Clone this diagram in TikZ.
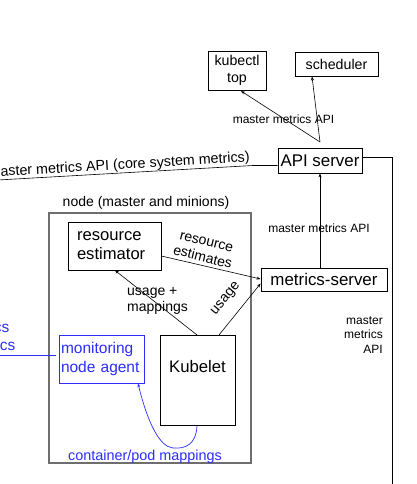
\documentclass[tikz,border=0pt]{standalone}
\usepackage{fontspec}
\setmainfont{Liberation Sans}
\usetikzlibrary{arrows.meta}
\definecolor{agentblue}{RGB}{45,45,255}
\definecolor{framegray}{RGB}{110,110,110}
\tikzset{
  box/.style={draw=black, line width=0.8pt, inner sep=0pt},
  conn/.style={draw=black, line width=0.6pt},
  arr/.style={conn, -{Stealth[length=4pt,width=3pt]}},
  lbl/.style={inner sep=0pt, font=\fontsize{12}{14}\selectfont},
  mlbl/.style={inner sep=0pt, font=\fontsize{14}{16.5}\selectfont},
}
\begin{document}
\begin{tikzpicture}[x=1pt,y=1pt]
\clip (0,0) rectangle (416,484);
\fill[white] (0,0) rectangle (416,484);
% boxes
\node[box, minimum width=58pt, minimum height=39pt, align=center,
  font=\fontsize{14.2}{17}\selectfont] (kubectl) at (237,413.5) {kubectl\\top};
\node[box, minimum width=83pt, minimum height=24pt,
  font=\fontsize{14.2}{17}\selectfont] (sched) at (336.5,420) {scheduler};
\node[box, minimum width=84pt, minimum height=25pt,
  font=\fontsize{16.9}{20}\selectfont] (api) at (320,323.5) {API server};
\node[box, minimum width=126pt, minimum height=23pt,
  font=\fontsize{16.9}{20}\selectfont] (ms) at (324,204.5) {metrics-server};
\node[draw=framegray, line width=1.3pt, minimum width=202pt, minimum height=250pt,
  inner sep=0pt] (nodebox) at (150,146) {};
\node[mlbl, anchor=south] (nodelbl) at (146,274) {node (master and minions)};
\node[box, text width=75pt, inner xsep=9pt, minimum height=48pt, align=left,
  font=\fontsize{16.6}{19}\selectfont] (est) at (114.5,238) {resource\\estimator};
\node[box, anchor=north, minimum width=75pt, inner sep=0pt, text height=37pt,
  text depth=53pt, font=\fontsize{16.7}{20}\selectfont] (kubelet) at (197.5,149) {Kubelet};
\node[draw=agentblue, text=agentblue, line width=0.8pt, text width=82pt, inner xsep=1.5pt,
  inner ysep=0pt, minimum height=48pt, align=left,
  font=\fontsize{15.5}{18.5}\selectfont] (agent) at (102,125) {monitoring\\node agent};
% top arrows
\coordinate (apex) at (320,342);
\draw[arr] (apex) -- (241,393);
\draw[arr] (apex) -- (sched.south -| 312,0);
\node[lbl] (l1) at (283.5,365) {master metrics API};
% api <- metrics-server
\draw[arr] (api.south |- ms.north) -- (api.south);
\node[lbl] (l2) at (319,256) {master metrics API};
% right line
\coordinate (r1) at (392,327);
\coordinate (r2) at (392,0);
\draw[conn] (api.east |- r1) -- (r1) -- (r2);
\node[lbl, anchor=east, align=right, font=\fontsize{12}{14.5}\selectfont] (l3) at (383,149) {master\\metrics\\API};
% left line
\coordinate (lbend) at (253,318.5);
\coordinate (lend) at (-2,304);
\draw[conn] (api.west |- lbend) -- (lbend) -- (lend);
\node[inner sep=0pt, anchor=base east, rotate=3.4, font=\fontsize{14.3}{17}\selectfont] (l4)
  at (250,322.5) {master metrics API (core system metrics)};
% inner arrows
\draw[arr] (kubelet.north -| 197,0) -- (est.south -| 115,0);
\node[mlbl, anchor=west, align=left] (l5) at (127,183) {usage +\\mappings};
\draw[arr] (kubelet.north -| 219,0) -- (ms.west |- 0,200.5);
\node[mlbl, rotate=50] (l6) at (226,185) {usage};
\draw[arr] (est.east |- 0,228) -- (ms.west |- 0,205);
\node[mlbl, rotate=-14, align=center, font=\fontsize{14}{16}\selectfont] (l7) at (204.5,234) {resource\\estimates};
% blue
\draw[agentblue, line width=0.7pt, -{Stealth[length=4pt,width=3pt]}]
  (kubelet.south -| 197,0) .. controls (196,39) and (185,35) .. (173,36)
  .. controls (160,37) and (148,60) .. (agent.south -| 138,0);
\node[text=agentblue, inner sep=0pt, font=\fontsize{14.4}{17}\selectfont] (l8) at (145,27) {container/pod mappings};
\coordinate (bl) at (-2,129);
\draw[agentblue, line width=0.7pt] (agent.west |- bl) ++(-3,0) -- (bl);
\node[text=agentblue, inner sep=0pt, anchor=east, font=\fontsize{15.5}{18}\selectfont] (l9) at (9.5,157) {metrics};
\node[text=agentblue, inner sep=0pt, anchor=east, font=\fontsize{15.5}{18}\selectfont] (l10) at (15.5,139) {metrics};
\end{tikzpicture}
\end{document}
